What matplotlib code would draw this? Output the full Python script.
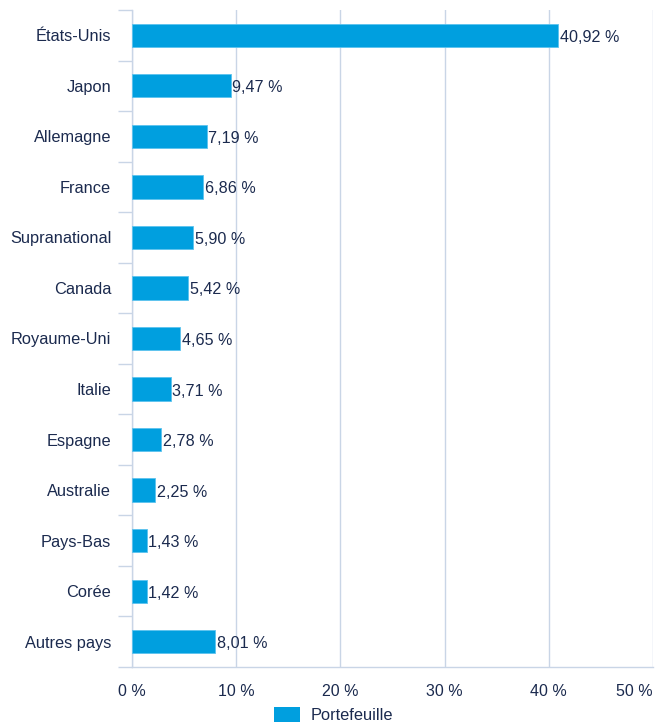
import numpy as np
import matplotlib
matplotlib.use("Agg")
import matplotlib.pyplot as plt
from matplotlib.patches import Patch

## data
pays = ["États-Unis", "Japon", "Allemagne", "France", "Supranational", "Canada",
        "Royaume-Uni", "Italie", "Espagne", "Australie", "Pays-Bas", "Corée",
        "Autres pays"]
poids = [40.92, 9.47, 7.19, 6.86, 5.90, 5.42, 4.65, 3.71, 2.78, 2.25, 1.43, 1.42, 8.01]
xticks = [0, 10, 20, 30, 40, 50]
serie = "Portefeuille"

## style
bleu   = "#009fdf"
grille = "#c9d5e6"
texte  = "#1b2a4e"
plt.rcParams["font.family"] = ["Liberation Sans", "DejaVu Sans"]
plt.rcParams["font.size"] = 11.5

fig = plt.figure(figsize=(6.67, 7.22), dpi=100)
ax = fig.add_axes([132/667, 1-667/722, (653-132)/667, (667-10)/722])

n = len(pays)
y = np.arange(n)
ax.barh(y, poids, height=0.46, color=bleu, edgecolor="#5cc3ee", linewidth=0.6, zorder=3)
for yi, v in zip(y, poids):
    ax.text(v + 0.15, yi + 0.04, f"{v:.2f}".replace(".", ",") + " %", va="center", ha="left",
            color=texte, fontsize=11.6, zorder=4)

ax.set_xlim(0, 50)
ax.set_ylim(n - 0.5, -0.5)

ax.set_yticks(y)
ax.set_yticklabels(pays, color=texte, fontsize=11.8)
ax.set_yticks(np.arange(n + 1) - 0.5, minor=True)
ax.tick_params(axis="y", which="major", length=0, pad=15)
ax.tick_params(axis="y", which="minor", length=10, width=1, color=grille)

ax.set_xticks(xticks)
lbls = ax.set_xticklabels([f"{t} %" for t in xticks], color=texte)
lbls[-1].set_horizontalalignment("right")
lbls[-1].set_x(50)
ax.tick_params(axis="x", length=0, pad=12)

ax.grid(axis="x", color=grille, linewidth=1, zorder=0)
for s in ["top", "right"]:
    ax.spines[s].set_visible(False)
for s in ["left", "bottom"]:
    ax.spines[s].set_color(grille)
    ax.spines[s].set_linewidth(1)

fig.legend(handles=[Patch(facecolor=bleu, label=serie)], loc="lower center",
           bbox_to_anchor=(0.5, -0.022), frameon=False, handlelength=1.6,
           handleheight=1.1, handletextpad=0.6, labelcolor=texte, fontsize=11.8)

fig.savefig("out.png", dpi=100)
